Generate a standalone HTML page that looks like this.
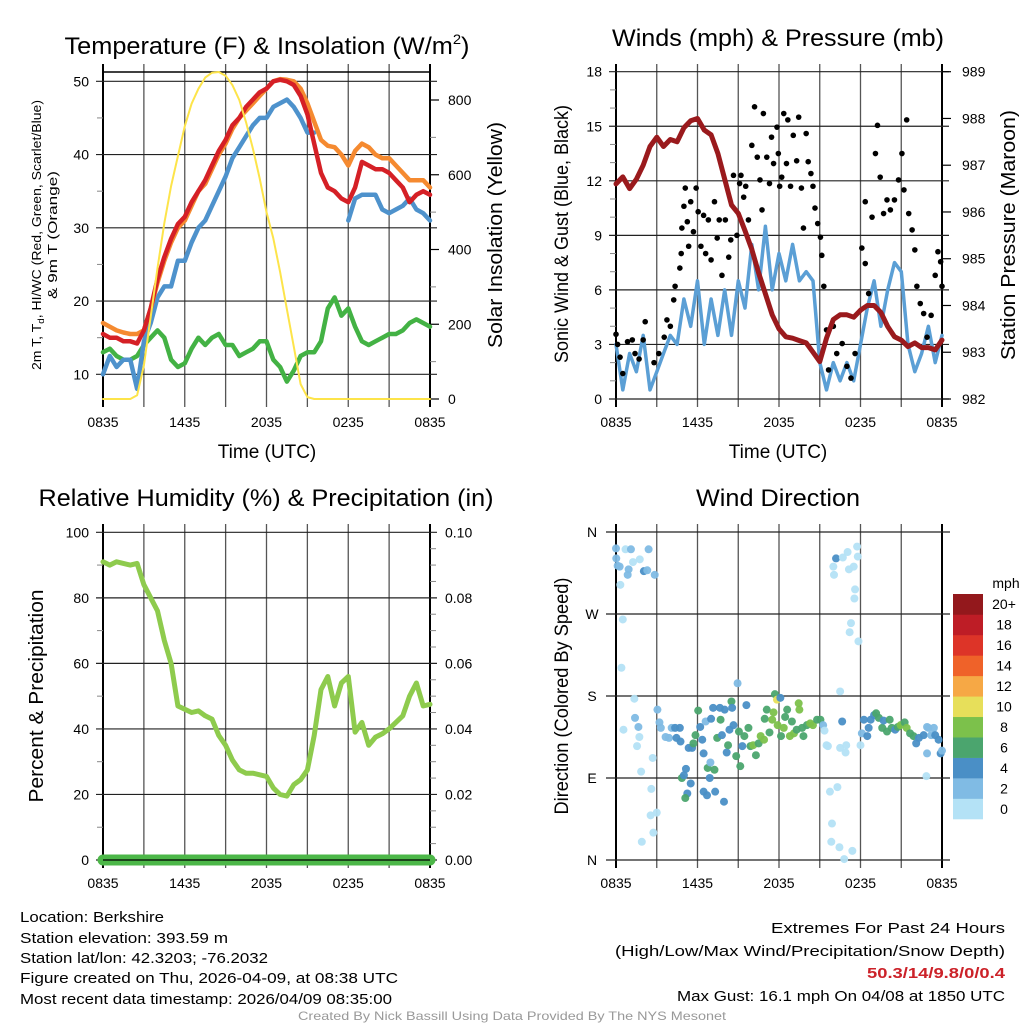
<!DOCTYPE html>
<html><head><meta charset="utf-8"><style>
html,body{margin:0;padding:0;background:#fff}
svg{display:block;font-family:"Liberation Sans",sans-serif}
</style></head><body>
<svg id="s" width="1024" height="1024" viewBox="0 0 1024 1024">
<g font-size="24" text-anchor="middle">
<text x="267" y="54" textLength="405">Temperature (F) &amp; Insolation (W/m<tspan font-size="14" dy="-10">2</tspan><tspan dy="10">)</tspan></text>
<text x="778" y="46" textLength="332">Winds (mph) &amp; Pressure (mb)</text>
<text x="266" y="506" textLength="455">Relative Humidity (%) &amp; Precipitation (in)</text>
<text x="778" y="506" textLength="164">Wind Direction</text>
</g>
<g text-anchor="middle">
<text x="267" y="458" font-size="19">Time (UTC)</text>
<text x="778" y="458" font-size="19">Time (UTC)</text>
<text transform="translate(502,235) rotate(-90)" font-size="20" textLength="226">Solar Insolation (Yellow)</text>
<text transform="translate(41,235) rotate(-90)" font-size="13" textLength="270">2m T, T<tspan font-size="9" dy="3">d</tspan><tspan dy="-3">, HI/WC (Red, Green, Scarlet/Blue)</tspan></text>
<text transform="translate(57,235) rotate(-90)" font-size="13" textLength="128">&amp; 9m T (Orange)</text>
<text transform="translate(568,234) rotate(-90)" font-size="19" textLength="258">Sonic Wind &amp; Gust (Blue, Black)</text>
<text transform="translate(1015,235) rotate(-90)" font-size="20" textLength="250">Station Pressure (Maroon)</text>
<text transform="translate(43,696) rotate(-90)" font-size="20" textLength="213">Percent &amp; Precipitation</text>
<text transform="translate(568,696) rotate(-90)" font-size="19" textLength="237">Direction (Colored By Speed)</text>
</g>
<g id="plots"></g>
<g font-size="15">
<text x="20" y="922" textLength="144">Location: Berkshire</text>
<text x="20" y="943" textLength="208">Station elevation: 393.59 m</text>
<text x="20" y="963" textLength="248">Station lat/lon: 42.3203; -76.2032</text>
<text x="20" y="983" textLength="378">Figure created on Thu, 2026-04-09, at 08:38 UTC</text>
<text x="20" y="1004" textLength="372">Most recent data timestamp: 2026/04/09 08:35:00</text>
</g>
<g font-size="15" text-anchor="end">
<text x="1005" y="933" textLength="234">Extremes For Past 24 Hours</text>
<text x="1005" y="956" textLength="390">(High/Low/Max Wind/Precipitation/Snow Depth)</text>
<text x="1005" y="978" fill="#cc2229" font-weight="bold" textLength="138">50.3/14/9.8/0/0.4</text>
<text x="1005" y="1001" textLength="328">Max Gust: 16.1 mph On 04/08 at 1850 UTC</text>
</g>
<text x="512" y="1020" font-size="12" fill="#999" text-anchor="middle" textLength="428">Created By Nick Bassill Using Data Provided By The NYS Mesonet</text>
</svg>
<script>
const step=0.5;
const xTicks=["0835","1435","2035","0235","0835"];
const tempRed=[15.5,15,15,14.5,14.5,14.2,16,19,23,26,28.5,30.5,31.5,33.5,35,36.5,38.5,40.5,42,44,45,46.5,47.5,48.5,49,50,50.2,50,49.5,48,45.5,41.5,37.5,35.5,35,34,33.5,35.5,39,38.5,38,38,37.5,36.5,35.5,33.5,34.5,35,34.5];
const temp9m=[17,16.5,16,15.7,15.5,15.5,16,19,22.5,25.5,28,30,31,33,35,36,38,40,41.5,43.5,45,46,47,48,49,50,50.3,50.2,50,49,47,44.5,42,41.2,41,40,38.5,40.5,41.5,41,40,39.5,39.5,38.5,37.5,36.5,36.5,36.5,35.5];
const tempWC=[10,12.5,11,12,12,8,14.5,17,20.5,22,22,25.5,25.5,28,30,31,33,35,37,39.5,41,42.5,44,45,45,46.5,47,47.5,46.5,45,43,43,null,null,null,null,31,34,34.5,34.5,34.5,32.5,32,32.5,33,34,32.5,32,31];
const dewpt=[13,13.5,12.5,12,12,12.5,14,15,16,15,12,11,11.5,13.5,15,14,15,15.5,14,14,12.5,13,13.5,14.5,14.5,12,11,9,10.5,12.5,13,13,14.5,19,20.5,18,19,16.5,14.5,14,14.5,15,15.5,15.5,16,17,17.5,17,16.5];
const solar=[0,0,0,0,0,10,90,220,350,470,570,650,730,790,830,860,873,875,865,840,800,740,670,590,500,430,340,240,140,40,5,0,0,0,0,0,0,0,0,0,0,0,0,0,0,0,0,0,0];
const tempTicks=[10,20,30,40,50];
const solarTicks=[0,200,400,600,800];
const pressure=[986.6,986.75,986.5,986.7,987,987.4,987.6,987.4,987.55,987.5,987.8,987.95,988,987.75,987.65,987.25,986.7,986.15,985.97,985.6,985.2,984.7,984.25,983.8,983.5,983.33,983.3,983.25,983.2,983.0,982.8,983.3,983.7,983.8,983.8,983.75,983.9,984,984,983.85,983.55,983.33,983.26,983.12,983.2,983.1,983.1,983.05,983.26];
const windSpeed=[3,0.5,2.5,1.5,3.5,0.5,1.5,2.5,3.5,3,5.5,4,6.5,3,5.5,3.5,6,3.5,6.5,5,8.5,6,9.5,6,8,6.5,8.5,6.5,7,6.5,2,0.5,2,1,2,1,3,5,6.5,4,6,7.5,7,3,1.5,2.5,4,2,3.5];
const gustTimes=[0,0.12,0.3,0.5,0.85,1.2,1.4,1.7,2.15,2.0,2.8,3.15,3.55,3.75,4.0,4.25,4.35,4.7,4.8,4.85,5.0,5.1,5.25,5.35,5.5,5.7,5.9,6.05,6.25,6.45,6.6,6.8,7.0,7.25,7.45,7.6,7.8,8.05,8.3,8.45,8.65,8.9,9.1,9.2,9.4,9.55,9.75,10.0,10.2,10.4,10.6,10.75,10.85,11.1,11.3,11.45,11.6,11.85,11.95,12.05,12.2,12.35,12.55,12.65,12.85,13.05,13.3,13.45,13.65,13.8,14.0,14.15,14.35,14.5,14.65,14.85,15.05,15.15,15.3,15.5,15.65,16.0,16.25,16.65,17.0,17.3,17.6,18.1,18.35,18.6,18.35,18.85,19.1,19.25,19.45,19.7,19.95,20.2,20.5,20.8,21.05,21.2,21.4,21.55,21.8,22.0,22.15,22.4,22.65,22.9,23.2,23.5,23.7,23.9,24.0];
const gustValues=[3.56,3.0,2.3,1.4,3.15,3.25,2.5,2.2,4.25,3.25,2.0,2.5,3.4,4.35,4.0,5.45,6.2,7.2,8.0,9.4,10.6,11.6,9.75,8.4,10.85,9.2,11.6,10.3,8.4,10.1,8.0,9.85,7.65,10.85,8.85,9.85,6.8,9.85,7.8,8.75,12.3,9.0,11.85,12.3,11.1,11.7,9.85,13.95,16.07,13.3,12.05,10.4,15.7,13.3,11.85,14.4,12.95,14.95,13.5,11.7,12.2,15.7,12.95,15.35,11.7,14.5,13.1,15.5,11.6,9.4,14.6,13.05,12.4,11.7,10.5,9.65,8.9,7.9,6.2,3.8,1.6,4.0,2.5,3.05,1.8,1.15,2.5,8.3,7.45,5.8,10.85,10.0,13.5,15.05,12.2,10.2,10.95,10.4,10.95,12.05,13.5,11.5,15.35,10.2,9.3,8.2,6.2,5.25,4.7,3.4,4.6,6.8,8.1,7.55,6.2];
const windTicks=[0,3,6,9,12,15,18];
const pressureTicks=[982,983,984,985,986,987,988,989];
const rh=[91,90,91,90.5,90,90.5,84,80,76,67,60,47,46,45,45.5,44,43,38,35,30.5,27.5,26.5,26.5,26,25.5,22,20,19.5,23,24.5,27.5,38,52,56,47,54,56,39,42,35,37.5,38.5,40,42,44,50,54,47,47.5];
const precipTimes=[0,6,12,18,24];
const precip=[0,0,0,0,0];
const rhTicks=[0,20,40,60,80,100];
const precipTicks=["0.00","0.02","0.04","0.06","0.08","0.10"];
const dirTimes=[0,0.02,0.12,0.27,0.32,0.7,0.86,0.93,1.1,1.25,1.75,2.05,2.3,2.4,2.85,0.5,0.4,0.55,1.35,1.4,1.65,1.72,1.55,1.85,2.6,2.7,2.55,2.75,3.0,1.9,3.05,3.2,3.3,3.65,3.9,4.1,4.35,4.7,4.45,4.75,4.85,5.0,5.15,5.25,5.1,5.5,5.6,5.35,5.7,5.85,6.05,6.2,6.35,6.45,6.45,6.6,6.7,6.75,6.9,6.95,7.0,7.15,7.25,7.3,7.45,7.65,7.8,7.7,7.95,8.0,8.15,8.25,8.35,8.5,8.55,8.65,8.85,8.95,9.05,9.15,9.3,9.45,9.6,9.75,9.9,10.1,10.3,10.5,10.65,10.9,10.95,11.1,11.3,11.5,11.6,11.7,11.85,11.9,12.1,12.15,12.35,12.45,12.6,12.8,12.95,13.1,13.3,13.45,13.5,13.7,13.8,14.05,14.3,14.5,14.8,15.05,15.25,15.35,15.5,15.6,15.75,15.9,15.85,16.3,16.45,16.5,16.5,16.65,16.8,16.9,16.95,17.4,16.0,16.05,16.2,16.7,17.05,17.15,17.5,17.75,17.8,17.6,17.55,17.3,17.2,17.85,18.0,18.1,18.25,18.5,18.6,18.75,19.0,19.15,19.35,19.6,19.7,19.95,20.15,20.3,20.55,20.75,20.95,21.25,21.4,21.65,21.9,22.1,22.3,22.65,22.9,23.0,23.2,23.4,23.5,23.75,23.9,24.0,22.9,22.85];
const dirDegrees=[342,331,323,322,302,341,313,319,341,327,330,317,318,341,313,264,211,143,177,156,146,135,125,97,78,112,49,30,52,20,165,151,145,135,134,145,145,145,134,130,90,93,100,73,68,84,123,123,128,137,164,146,132,117,75,152,71,101,90,107,155,167,99,75,134,167,137,154,64,165,118,126,143,174,167,148,114,194,141,103,125,136,170,145,125,126,115,128,136,132,155,165,140,154,162,182,176,148,178,136,145,157,165,136,152,139,143,172,165,145,136,148,150,148,154,154,148,142,126,125,75,40,20,80,14,123,185,152,1,118,126,10,322,313,331,332,338,319,322,344,333,297,287,260,250,240,126,139,154,136,145,154,159,161,156,145,153,141,154,145,143,146,148,151,145,139,136,128,134,137,146,145,137,145,137,132,117,120,117,92];
const dirSpeeds=[2,2,2,2,0,0,2,2,2,0,0,4,2,2,2,0,0,0,0,2,2,0,0,0,0,0,0,0,0,0,2,2,2,2,2,2,4,4,4,4,6,4,4,4,6,4,4,4,6,6,6,4,4,4,4,2,4,6,4,2,4,4,6,4,6,4,4,6,4,4,4,6,4,6,4,4,6,2,6,6,4,6,4,6,6,8,6,6,8,8,6,6,6,8,8,6,10,8,4,6,8,6,6,8,6,8,6,8,8,6,6,6,8,8,6,6,2,0,0,0,0,0,0,0,0,0,0,4,0,0,0,0,0,0,4,0,0,0,0,0,0,0,0,0,0,0,0,2,4,4,4,4,4,6,6,6,4,6,6,6,4,6,8,6,8,6,6,4,4,4,2,2,2,2,4,4,4,2,2,0,0];
const dirTicks=["N","E","S","W","N"];
const speedBins=["0","2","4","6","8","10","12","14","16","18","20+"];
const speedColors=["#b4e2f6","#80bbe4","#4a8fc6","#4ba56e","#7cc14b","#e7df5a","#f6a845","#ef6229","#dd3428","#be1d26","#93181c"];

document.querySelectorAll('text[textLength]').forEach(t=>t.setAttribute('lengthAdjust','spacingAndGlyphs'));
const NS="http://www.w3.org/2000/svg";
const root=document.getElementById('plots');
function mk(tag,attrs,parent){const e=document.createElementNS(NS,tag);for(const k in attrs)e.setAttribute(k,attrs[k]);(parent||root).appendChild(e);return e;}
function panel(x0,w,top,bottom,name){
  const g=mk('g',{});
  
  
  return {g,x:h=>x0+h*w/24,x0,x1:x0+w,top,bottom};
}
function lin(d0,d1,p0,p1){return v=>p0+(v-d0)*(p1-p0)/(d1-d0);}
function pathFrom(times,vals,sx,sy){let d='',pen=false;for(let i=0;i<vals.length;i++){if(vals[i]===null){pen=false;continue;}d+=(pen?'L':'M')+sx(times[i]).toFixed(1)+','+sy(vals[i]).toFixed(1);pen=true;}return d;}
const idx=a=>a.map((_,i)=>i*step);
function vgrid(P,ext){
  for(let i=0;i<=8;i++){const x=P.x(i*3);const l=mk('line',{x1:x,x2:x,y1:P.top-8,y2:P.bottom+8,stroke:(i==0||i==8)?'#000':'#555','stroke-width':(i==0||i==8)?2:1.3},P.g);
    
    }
  xTicks.forEach((t,i)=>{const tx=mk('text',{x:P.x(i*6),y:P.bottom+ext,'font-size':14,'text-anchor':'middle'},P.g);tx.textContent=t;
    
    });
}
function hgrid(P,ticks,sy,labels,side,ext){
  ticks.forEach((t,i)=>{const y=sy(t);const l=mk('line',{x1:P.x0-7,x2:P.x1+7,y1:y,y2:y,stroke:'#222','stroke-width':1.2},P.g);
    
    
    const tx=mk('text',{x:side=='l'?P.x0-14:P.x1+ext,y:y+5,'font-size':14,'text-anchor':side=='l'?'end':'start'},P.g);tx.textContent=labels?labels[i]:t;
    
    });
}
function minor(P,sy,vals,side){vals.forEach(v=>{const y=sy(v);const x=side=='l'?P.x0:P.x1;const l=mk('line',{x1:x,x2:side=='l'?x-6:x+6,y1:y,y2:y,stroke:'#888','stroke-width':1},P.g);
  
  });}
function line(P,d,color,wid,name){const p=mk('path',{d,fill:'none',stroke:color,'stroke-width':wid,'stroke-linejoin':'round','stroke-linecap':'round'},P.g);
  
  return p;}

{const P=panel(103,327,72,399,'temperature-panel');
 const sy=lin(10,50,374.3,81.3), ss=lin(0,800,399,100);
 vgrid(P,28);
 hgrid(P,tempTicks,sy,null,'l');
 solarTicks.forEach(t=>{const y=ss(t);const l=mk('line',{x1:P.x1,x2:P.x1+9,y1:y,y2:y,stroke:'#000','stroke-width':1.2},P.g);
   
   
   const tx=mk('text',{x:P.x1+18,y:y+5,'font-size':14},P.g);tx.textContent=t;
   
   });
 minor(P,ss,[100,300,500,700],'r');minor(P,sy,[15,25,35,45],'l');
 const tl=mk('line',{x1:P.x0,x2:P.x1,y1:72,y2:72,stroke:'#000','stroke-width':1.5},P.g);
 
 
 const t=idx(tempRed);
 line(P,pathFrom(t,dewpt,P.x,sy),'#43b244',4.5,'dewpoint-line');
 line(P,pathFrom(t,tempWC,P.x,sy),'#4e92cc',4.5,'windchill-line');
 line(P,pathFrom(t,temp9m,P.x,sy),'#f58a30',4.5,'temp-9m-line');
 line(P,pathFrom(t,tempRed,P.x,sy),'#d52026',4.5,'temp-2m-line');
 line(P,pathFrom(t,solar,P.x,ss),'#fde44a',2,'solar-line');
}
{const P=panel(616,326,72,399,'winds-panel');
 const sy=lin(0,18,399,71.7), sp=lin(982,989,399,71.7);
 vgrid(P,28);
 hgrid(P,windTicks,sy,null,'l');
 pressureTicks.forEach(t=>{const y=sp(t);const l=mk('line',{x1:P.x1,x2:P.x1+9,y1:y,y2:y,stroke:'#000','stroke-width':1.2},P.g);
   
   
   const tx=mk('text',{x:P.x1+20,y:y+5,'font-size':14},P.g);tx.textContent=t;
   
   });
 minor(P,sy,[1,2,4,5,7,8,10,11,13,14,16,17],'l');
 const t=idx(windSpeed);
 line(P,pathFrom(t,windSpeed,P.x,sy),'#5b9fd5',3.5,'sonic-wind-line');
 gustTimes.forEach((h,i)=>{const c=mk('circle',{cx:P.x(h),cy:sy(gustValues[i]),r:2.8,fill:'#000'},P.g);
   
   });
 line(P,pathFrom(t,pressure,P.x,sp),'#9a1a1d',5,'pressure-line');
}
{const P=panel(103,327,532,860,'humidity-panel');
 const sy=lin(0,100,860,532.3);
 vgrid(P,28);
 hgrid(P,rhTicks,sy,null,'l');
 rhTicks.forEach((r,i)=>{const y=sy(r);const tx=mk('text',{x:P.x1+15,y:y+5,'font-size':14},P.g);tx.textContent=precipTicks[i];
   
   });
 minor(P,sy,[10,30,50,70,90],'l');minor(P,sy,[5,10,15,25,30,35,45,50,55,65,70,75,85,90,95],'r');
 line(P,pathFrom(idx(rh),rh,P.x,sy),'#8ecb4d',5,'rh-line');
 const spc=lin(0,0.1,860,532.3);
 line(P,pathFrom(precipTimes,precip,P.x,spc),'#4cb748',11,'precip-line');
 const bl=mk('line',{x1:P.x0,x2:P.x1,y1:860,y2:860,stroke:'#000','stroke-width':1.3},P.g);
 
 
}
{const P=panel(616,326,532,860,'direction-panel');
 const sy=lin(0,360,860,532);
 vgrid(P,28);
 [0,90,180,270,360].forEach((d,i)=>{const y=sy(d);const l=mk('line',{x1:P.x0-10,x2:P.x1+8,y1:y,y2:y,stroke:'#222','stroke-width':1.2},P.g);
   
   
   const tx=mk('text',{x:592,y:y+5,'font-size':14,'text-anchor':'middle'},P.g);tx.textContent=dirTicks[i];
   
   });
 dirTimes.forEach((h,i)=>{const b=Math.min(10,Math.floor(dirSpeeds[i]/2));const c=mk('circle',{cx:P.x(h),cy:sy(dirDegrees[i]),r:4,fill:speedColors[b],'fill-opacity':0.95},P.g);
   
   });
 const lg=mk('g',{});
 
 
 const bh=225/11;
 speedBins.forEach((s,i)=>{const y=819-(i+1)*bh;const r=mk('rect',{x:953,y:y,width:30,height:bh+0.3,fill:speedColors[i]},lg);
   
   
   const tx=mk('text',{x:1004,y:y+bh/2+5,'font-size':14,'text-anchor':'middle'},lg);tx.textContent=s;
   
   });
 const mt=mk('text',{x:1006,y:588,'font-size':14,'text-anchor':'middle'},lg);mt.textContent='mph';
 
 
}
</script>
</body></html>
